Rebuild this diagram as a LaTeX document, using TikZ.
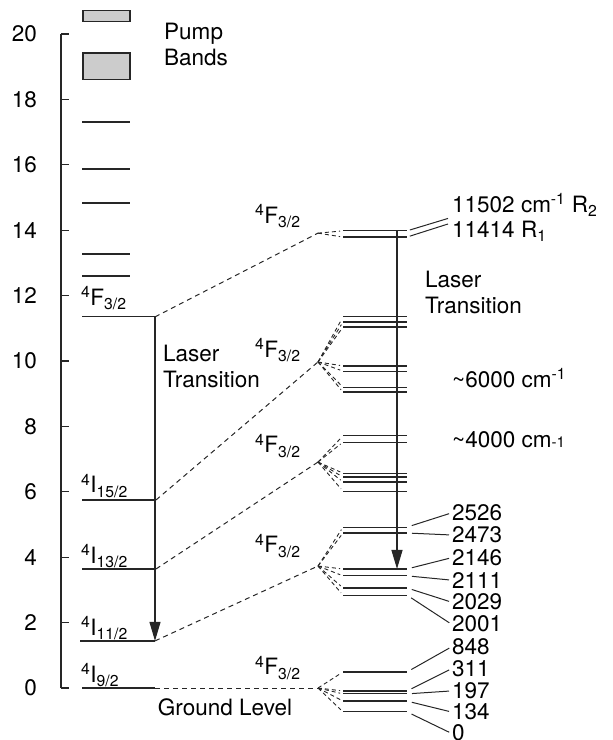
\documentclass[tikz,border=0pt]{standalone}
\usepackage{fontspec}
\setmainfont{TeX Gyre Heros}
\usetikzlibrary{arrows.meta}
\newcommand{\term}[2]{\textsuperscript{4}#1\textsubscript{#2}}
\newcommand{\lowsub}[1]{{\fontsize{15}{15}\selectfont #1}}
\tikzset{
  txt/.style={font=\fontsize{22.5}{26}\selectfont, inner sep=1pt, text=black},
  lvl/.style={draw=black!85, line width=1.2pt},
  band/.style={draw=black!85, fill=black!20, line width=1.1pt},
  link/.style={draw=black!85, line width=1pt, dash pattern=on 5pt off 4pt},
  fan/.style={draw=black!85, line width=0.9pt, dash pattern=on 4pt off 3pt, shorten >=3pt},
  tie/.style={draw=black!85, line width=1pt, shorten <=5pt, shorten >=2pt},
  laser/.style={lvl, -{Triangle[length=19pt,width=11pt]}},
}
\begin{document}
\begin{tikzpicture}[x=1pt,y=32.7pt]
\useasboundingbox (0,-1.59) rectangle (613,21.04);
% energy scale
\draw[lvl] (61,0) -- (61,20);
\foreach \e in {0,2,...,20} {
  \draw[lvl] (61,\e) -- (69,\e);
  \node[txt, anchor=east] (n\e) at (38,\e) {\e};
}
% pump bands
\draw[band] (83,20.37) rectangle (130,20.73);
\draw[band] (83,18.62) rectangle (130,19.42);
\foreach \e in {17.31,15.87,14.83,13.27,12.60}
  \draw[lvl] (82,\e) -- (130,\e);
\node[txt, anchor=west, align=left] (pump) at (163,19.68) {Pump\\Bands};
% manifolds
\coordinate (F32) at (155,11.35);
\coordinate (I152) at (156,5.75);
\coordinate (I132) at (156,3.64);
\coordinate (I112) at (155,1.44);
\coordinate (I92) at (155,0);
\draw[lvl] (82,11.35) -- (F32);
\draw[lvl] (82,5.75) -- (I152);
\draw[lvl] (82,3.64) -- (I132);
\draw[lvl] (80,1.44) -- (I112);
\draw[lvl] (82,0) -- (I92);
\node[txt, anchor=base west] (tF32) at (80,11.71) {\term{F}{3/2}};
\node[txt, anchor=base west] (tI152) at (80,5.97) {\term{I}{15/2}};
\node[txt, anchor=base west] (tI132) at (80,3.82) {\term{I}{13/2}};
\node[txt, anchor=base west] (tI112) at (80,1.62) {\term{I}{11/2}};
\node[txt, anchor=base west] (tI92) at (80,0.18) {\term{I}{9/2}};
\draw[laser] (F32) -- (I112);
\node[txt, anchor=west, align=left] (lasL) at (162,9.83) {Laser\\Transition};
\node[txt, anchor=north] (ground) at (225,-0.28) {Ground Level};
% Stark splitting
\coordinate (a1) at (318,13.91);
\coordinate (a2) at (318,9.97);
\coordinate (a3) at (318,6.91);
\coordinate (a4) at (318,3.73);
\coordinate (a5) at (318,0);
\draw[link] (F32) -- (a1);
\draw[link] (I152) -- (a2);
\draw[link] (I132) -- (a3);
\draw[link] (I112) -- (a4);
\draw[link] (I92) -- (a5);
\node[txt, anchor=base west] (s1) at (254,14.22) {\term{F}{3/2}};
\node[txt, anchor=base west] (s2) at (254,10.12) {\term{F}{3/2}};
\node[txt, anchor=base west] (s3) at (254,7.19) {\term{F}{3/2}};
\node[txt, anchor=base west] (s4) at (254,4.13) {\term{F}{3/2}};
\node[txt, anchor=base west] (s5) at (254,0.40) {\term{F}{3/2}};
\foreach \e [count=\i] in {13.98,13.79} {
  \coordinate (u\i) at (343,\e);
  \draw[lvl] (u\i) -- ++(64,0) coordinate (w\i);
  \draw[fan] (a1) -- (u\i);
}
\foreach \e [count=\i] in {11.35,11.19,11.04,9.85,9.69,9.20,9.05} {
  \coordinate (b\i) at (343,\e);
  \draw[lvl] (b\i) -- ++(64,0);
  \draw[fan] (a2) -- (b\i);
}
\foreach \e [count=\i] in {7.71,7.52,6.57,6.45,6.30,6.02} {
  \coordinate (c\i) at (343,\e);
  \draw[lvl] (c\i) -- ++(64,0);
  \draw[fan] (a3) -- (c\i);
}
\foreach \e/\v/\y in {4.92/2526/5.35, 4.74/2473/4.68, 3.64/2146/3.98, 3.43/2111/3.30, 3.06/2029/2.63, 2.84/2001/1.96} {
  \coordinate (s\v) at (343,\e);
  \draw[lvl] (s\v) -- ++(64,0) coordinate (e\v);
  \draw[fan] (a4) -- (s\v);
  \node[txt, anchor=west] (l\v) at (451,\y) {\v};
  \draw[tie] (e\v) -- (l\v.west);
}
\foreach \e/\v/\y in {0.49/848/1.25, -0.09/311/0.58, -0.18/197/-0.09, -0.40/134/-0.73, -0.73/0/-1.38} {
  \coordinate (g\v) at (343,\e);
  \draw[lvl] (g\v) -- ++(64,0) coordinate (h\v);
  \draw[fan] (a5) -- (g\v);
  \node[txt, anchor=west] (l\v) at (451,\y) {\v};
  \draw[tie] (h\v) -- (l\v.west);
}
% R lines and laser
\node[txt, anchor=west] (R2) at (451,14.77) {11502 cm\textsuperscript{-1} R\textsubscript{2}};
\node[txt, anchor=west] (R1) at (451,13.98) {11414 R\textsubscript{1}};
\coordinate (k2) at (448,14.36);
\coordinate (k1) at (448,14.19);
\draw[tie, shorten >=0pt, shorten <=3pt] (w1) -- (k2);
\draw[tie, shorten >=0pt, shorten <=3pt] (w2) -- (k1);
\coordinate (r1) at (397,13.98);
\draw[laser] (r1) -- (r1 |- s2146);
\node[txt, anchor=west, align=left] (lasR) at (424,12.1) {Laser\\Transition};
\node[txt, anchor=west] (m6) at (451,9.48) {\textasciitilde6000 cm\textsuperscript{-1}};
\node[txt, anchor=west] (m4) at (451,7.58) {\textasciitilde4000 cm\lowsub{-1}};
\end{tikzpicture}
\end{document}
